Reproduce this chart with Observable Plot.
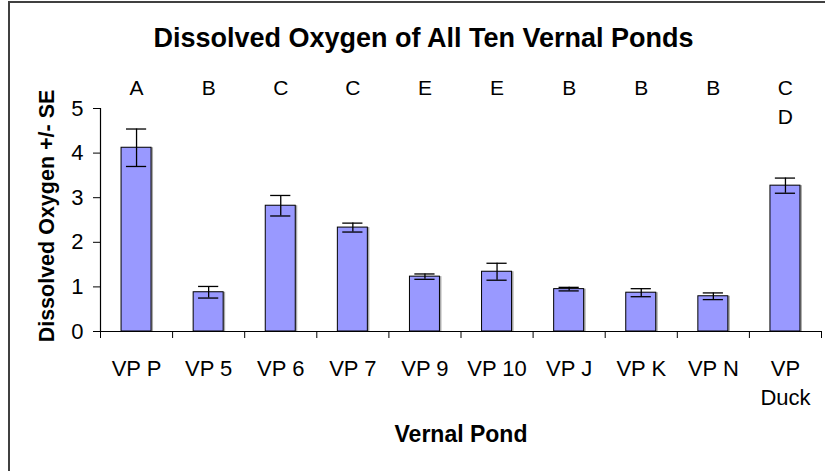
<!DOCTYPE html>
<html>
<head>
<meta charset="utf-8">
<script src="https://cdn.jsdelivr.net/npm/d3@7"></script>
<script src="https://cdn.jsdelivr.net/npm/@observablehq/plot@0.6"></script>
<style>
  html, body { margin: 0; padding: 0; background: #fff; }
  #wrap { position: relative; width: 825px; height: 471px; overflow: hidden; }
  #border { position: absolute; left: 8px; top: 1px; width: 900px; height: 600px;
            border: 2px solid #404040; pointer-events: none; box-sizing: border-box; }
  svg { font-family: "Liberation Sans", Arial, sans-serif; }
</style>
</head>
<body>
<div id="wrap"><div id="border"></div></div>
<script>
const ponds   = ["VP P", "VP 5", "VP 6", "VP 7", "VP 9", "VP 10", "VP J", "VP K", "VP N", "VP\nDuck"];
const means   = [4.12, 0.88, 2.82, 2.33, 1.23, 1.34, 0.95, 0.87, 0.79, 3.27];
const errors  = [0.42, 0.13, 0.23, 0.10, 0.06, 0.19, 0.04, 0.09, 0.075, 0.17];
const letters = ["A", "B", "C", "C", "E", "E", "B", "B", "B", "C\nD"];
const yTicks  = [0, 1, 2, 3, 4, 5];

const title  = "Dissolved Oxygen of All Ten Vernal Ponds";
const xTitle = "Vernal Pond";
const yTitle = "Dissolved Oxygen +/- SE";

const rows = ponds.map((name, i) => ({name, i, mean: means[i], se: errors[i], letter: letters[i]}));
const halfBar = 0.208;   // half bar width in category units
const halfCap = 0.14;    // half error-cap width

const font = "'Liberation Sans', Arial, sans-serif";

const chart = Plot.plot({
  width: 825,
  height: 471,
  marginTop: 108,
  marginBottom: 140,
  marginLeft: 100,
  marginRight: 4,
  style: {fontFamily: font, color: "#000", background: "transparent", overflow: "visible"},
  x: {domain: [0, ponds.length], axis: null},
  y: {domain: [0, 5], axis: null},
  marks: [
    // bar shadow
    Plot.rectY(rows, {x1: d => d.i + 0.5 - halfBar, x2: d => d.i + 0.5 + halfBar, y: "mean",
      fill: "#aaaaaa", dx: 2}),
    Plot.rectY(rows, {x1: d => d.i + 0.5 - halfBar, x2: d => d.i + 0.5 + halfBar, y: "mean",
      fill: "#9999ff", stroke: "#000", strokeWidth: 1}),
    // error bars
    Plot.ruleX(rows, {x: d => d.i + 0.5, y1: d => d.mean - d.se, y2: d => d.mean + d.se, stroke: "#000", strokeWidth: 1.3}),
    Plot.ruleY(rows, {y: d => d.mean + d.se, x1: d => d.i + 0.5 - halfCap, x2: d => d.i + 0.5 + halfCap, stroke: "#000", strokeWidth: 1.3}),
    Plot.ruleY(rows, {y: d => d.mean - d.se, x1: d => d.i + 0.5 - halfCap, x2: d => d.i + 0.5 + halfCap, stroke: "#000", strokeWidth: 1.3}),
    // axes lines
    Plot.ruleY([0], {stroke: "#000", strokeWidth: 1.2}),
    Plot.ruleX([0], {y1: 0, y2: 5, stroke: "#000", strokeWidth: 1.2}),
    Plot.axisY({ticks: yTicks, tickSize: 7, tickPadding: 10, tickFormat: d => String(d),
      fontSize: 22, label: null, stroke: "#000", fill: "#000"}),
    Plot.axisX({ticks: d3.range(ponds.length + 1), tickSize: 7, tickFormat: () => "", label: null, stroke: "#000"}),
    // category labels
    Plot.text(rows, {x: d => d.i + 0.5, text: "name", frameAnchor: "bottom", lineAnchor: "top",
      dy: 24, fontSize: 22, lineHeight: 1.32, fill: "#000"}),
    // significance letters
    Plot.text(rows, {x: d => d.i + 0.5, text: "letter", frameAnchor: "top", lineAnchor: "top",
      dy: -33, fontSize: 21, lineHeight: 1.34, fill: "#000"}),
    // titles
    Plot.text([title], {text: d => d, frameAnchor: "top", lineAnchor: "top", dy: -81, dx: -37.5,
      fontSize: 27, fontWeight: "bold", fill: "#000"}),
    Plot.text([xTitle], {text: d => d, frameAnchor: "bottom", lineAnchor: "top", dy: 94,
      fontSize: 23, fontWeight: "bold", fill: "#000"}),
    Plot.text([yTitle], {text: d => d, frameAnchor: "left", textAnchor: "middle", rotate: -90, lineAnchor: "middle",
      dx: -53.4, dy: -4, fontSize: 21.5, fontWeight: "bold", fill: "#000"})
  ]
});

document.getElementById("wrap").insertBefore(chart, document.getElementById("border"));
</script>
</body>
</html>
